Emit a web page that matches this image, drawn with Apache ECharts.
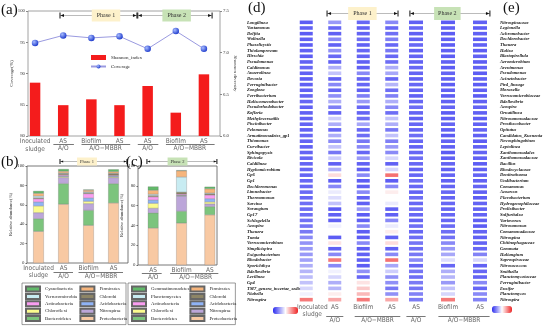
<!DOCTYPE html>
<html><head><meta charset="utf-8">
<script src="https://cdn.jsdelivr.net/npm/echarts@6/dist/echarts.min.js"></script>
<style>html,body{margin:0;padding:0;background:#fff}#c{width:550px;height:328px}</style>
</head><body><div id="c"></div>
<script>
// ---------------- DATA ----------------
// (a)
const aSamples = ['Inoculated\nsludge','AS','Biofilm','AS','AS','Biofilm','AS'];
const aGroups = ['', 'A/O', 'A/O\u2212MBBR', 'A/O\u2212MBBR', 'A/O', 'A/O\u2212MBBR', 'A/O\u2212MBBR'];
const aShannon = [6.64, 6.37, 6.44, 6.37, 6.60, 6.28, 6.74];
const aCoverage = [94.9, 96.1, 95.7, 95.95, 93.95, 96.8, 93.95];
const aCoverageTicks = [80, 85, 90, 95, 100];
const aShannonTicks = [6.0, 6.5, 7.0, 7.5];

// (b)
const bSamples = ['Inoculated\nsludge','AS','Biofilm','AS'];
const bGroups = ['', 'A/O', 'A/O\u2212MBBR', 'A/O\u2212MBBR'];
const bProteobacteria = [32.6, 60.6, 38.8, 61.9];
const bBacteroidetes = [13.1, 21.3, 15.5, 19.9];
const bNitrospirae = [6.2, 6.2, 6.9, 6.2];
const bChloroflexi = [6.9, 1.0, 2.4, 0.8];
const bAcidobacteria = [4.1, 0.8, 3.4, 0.8];
const bActinobacteria = [3.4, 1.0, 4.5, 0.8];
const bChlorobi = [1.0, 1.4, 1.0, 1.7];
const bVerrucomicrobia = [1.7, 0.5, 0.8, 0.4];
const bFirmicutes = [2.8, 1.8, 1.8, 1.7];
const bCyanobacteria = [2.4, 2.2, 0.5, 2.3];

// (c)
const cSamples = ['AS','Biofilm','AS'];
const cGroups = ['A/O', 'A/O\u2212MBBR', 'A/O\u2212MBBR'];
const cProteobacteria = [37.3, 42.3, 50.7];
const cBacteroidetes = [15.3, 12.0, 8.3];
const cNitrospirae = [4.7, 15.3, 2.7];
const cChloroflexi = [5.0, 0.5, 2.0];
const cAcidobacteria = [3.3, 0.5, 3.3];
const cActinobacteria = [3.3, 1.0, 3.7];
const cChlorobi = [1.3, 2.0, 1.3];
const cPlanctomycetes = [1.3, 15.3, 0.7];
const cFirmicutes = [4.0, 6.3, 4.3];
const cGemmatimonadetes = [3.7, 0.5, 2.0];

// (d) heatmap, phase 1 (0 = deep blue, 0.5 = white, 1 = red)
const dSamples = ['Inoculated\nsludge','AS','Biofilm','AS'];
const dGroups = ['', 'A/O', 'A/O\u2212MBBR', 'A/O\u2212MBBR'];
const dGenera = ['Longilinea','Vastamonas','Delftia','Wolinella','Phaselicystis','Thiolamprovum','Hirschia','Pseudomonas','Caldimonas','Anaerolinea','Devosia','Ferruginibacter','Zoogloea','Ferribacterium','Haliscomenobacter','Pseudorhodobacter','Kofleria','Methyloversatilis','Piscinibacter','Pelomonas','Armatimonadetes_gp1','Thiomonas','Curvibacter','Sphingopyxis','Rivicola','Caldilinea','Hyphomicrobium','Gp6','Gp1','Dechloromonas','Limnobacter','Thermomonas','Sarcina','Sorangium','Gp17','Schlegelella','Azospira','Thauera','Tumia','Verrucomicrobium','Simplicispira','Exiguobacterium','Rhodobacter','Sporichthya','Bdellovibrio','Levilinea','Gp4','TM7_genera_incertae_sedis','Niabella','Nitrospira'];
const dInoculated = [0.02,0.03,0.02,0.03,0.02,0.03,0.02,0.03,0.05,0.03,0.02,0.03,0.03,0.04,0.05,0.03,0.03,0.03,0.04,0.03,0.05,0.04,0.03,0.04,0.05,0.04,0.05,0.04,0.05,0.05,0.06,0.05,0.07,0.06,0.07,0.08,0.09,0.10,0.15,0.18,0.20,0.20,0.22,0.26,0.28,0.30,0.32,0.38,0.46,0.88];
const dAS_AO = [0.20,0.05,0.03,0.15,0.03,0.17,0.05,0.03,0.26,0.32,0.03,0.15,0.05,0.17,0.26,0.12,0.03,0.35,0.26,0.05,0.26,0.15,0.32,0.10,0.35,0.03,0.26,0.60,0.02,0.15,0.44,0.40,0.32,0.02,0.03,0.03,0.46,0.50,0.02,0.58,0.03,0.15,0.88,0.15,0.46,0.38,0.26,0.28,0.55,0.75];
const dBiofilm = [0.05,0.03,0.04,0.07,0.03,0.05,0.04,0.03,0.03,0.15,0.04,0.05,0.03,0.12,0.20,0.05,0.04,0.07,0.24,0.05,0.07,0.10,0.15,0.05,0.20,0.03,0.03,0.15,0.02,0.03,0.15,0.03,0.03,0.20,0.02,0.03,0.15,0.02,0.02,0.15,0.02,0.03,0.03,0.02,0.17,0.05,0.58,0.65,0.70,0.88];
const dAS_MBBR = [0.15,0.05,0.07,0.12,0.05,0.10,0.05,0.07,0.26,0.24,0.05,0.28,0.07,0.12,0.26,0.15,0.07,0.32,0.26,0.10,0.32,0.12,0.20,0.15,0.38,0.03,0.38,0.90,0.02,0.15,0.55,0.50,0.44,0.03,0.03,0.15,0.44,0.55,0.03,0.60,0.03,0.15,0.90,0.24,0.35,0.17,0.17,0.10,0.17,0.75];

// (e) heatmap, phase 2
const eSamples = ['AS','Biofilm','AS'];
const eGroups = ['A/O', 'A/O\u2212MBBR', 'A/O\u2212MBBR'];
const eGenera = ['Nitrospinaceae','Legionella','Achromobacter','Dechlorobacter','Thauera','Haliea','Blastopirellula','Aeromicrobium','Arenimonas','Pseudomonas','Acinetobacter','Pir4_lineage','Moraxella','Verrucomicrobiaceae','Bdellovibrio','Azospira','Ornatilinea','Nitrosomonadaceae','Prosthecobacter','Opitutus','Candidatus_Kuenenia','Novosphingobium','Leptolinea','Xanthomonadales','Xanthomonadaceae','Bacillus','Rhodocyclaceae','Denitratisoma','Undibacterium','Comamonas','Azoarcus','Flavobacterium','Hydrogenophilaceae','Prolixibacter','Sulfuritalea','Variovorax','Nitrosomonas','Comamonadaceae','Nitrospina','Chitinophagaceae','Gemmata','Haliangium','Saprospiraceae','Nitrosococcus','Smithella','Planctomycetaceae','Ferruginibacter','Ensifer','Planctomyces','Nitrospira'];
const eAS_AO = [0.03,0.05,0.03,0.04,0.05,0.03,0.04,0.03,0.05,0.04,0.03,0.05,0.04,0.03,0.05,0.07,0.04,0.03,0.05,0.04,0.07,0.05,0.04,0.05,0.07,0.05,0.04,0.05,0.07,0.05,0.04,0.07,0.05,0.07,0.05,0.04,0.07,0.05,0.07,0.09,0.07,0.10,0.15,0.05,0.09,0.07,0.11,0.09,0.13,0.11];
const eBiofilm = [0.02,0.03,0.02,0.03,0.02,0.03,0.02,0.03,0.02,0.04,0.03,0.02,0.03,0.02,0.03,0.04,0.02,0.03,0.04,0.03,0.02,0.04,0.03,0.02,0.03,0.04,0.03,0.04,0.03,0.04,0.05,0.04,0.05,0.04,0.05,0.05,0.06,0.07,0.08,0.15,0.20,0.24,0.40,0.05,0.26,0.28,0.20,0.32,0.38,0.88];
const eAS_MBBR = [0.03,0.02,0.03,0.02,0.03,0.02,0.03,0.02,0.03,0.02,0.03,0.02,0.03,0.02,0.03,0.04,0.03,0.02,0.03,0.04,0.03,0.02,0.03,0.04,0.03,0.02,0.03,0.04,0.03,0.04,0.03,0.02,0.04,0.03,0.04,0.03,0.02,0.04,0.03,0.04,0.05,0.13,0.38,0.03,0.05,0.04,0.15,0.05,0.15,0.13];

// ---------------- STYLE ----------------
const SERIF = "'Liberation Serif','Times New Roman',serif";
const SANS = "'Liberation Sans Narrow','DejaVu Sans Condensed','Liberation Sans',Arial,sans-serif";
const phylumColor = {
  Proteobacteria:'#f8c9a3', Bacteroidetes:'#7cc47d', Nitrospirae:'#bca6d9', Chloroflexi:'#fbfb8e',
  Acidobacteria:'#8fb3f6', Actinobacteria:'#f99df0', Chlorobi:'#8d8566', Verrucomicrobia:'#c8ecf2',
  Planctomycetes:'#c8ecf2', Firmicutes:'#f6b57c', Cyanobacteria:'#62ba6a', Gemmatimonadetes:'#62ba6a'
};
const heatColors = ['#2c2cf0', '#ffffff', '#ef2323'];

// ---------------- HELPERS ----------------
function spans(groups) {
  const out = [];
  groups.forEach((g, i) => {
    if (!g) return;
    const last = out[out.length - 1];
    if (last && last.name === g && last.end === i - 1) last.end = i;
    else out.push({ name: g, start: i, end: i });
  });
  return out;
}
function groupAxis(gridIndex, groups, margin) {
  const sp = spans(groups);
  return {
    gridIndex, type: 'value', position: 'bottom', min: -0.5, max: groups.length - 0.5, interval: 0.5,
    axisLine: { show: false }, axisTick: { show: false }, splitLine: { show: false },
    axisLabel: {
      margin, fontSize: 6.5, color: '#666', fontFamily: SANS, showMinLabel: true, showMaxLabel: true,
      formatter: v => { const s = sp.find(s => Math.abs((s.start + s.end) / 2 - v) < 1e-6); return s ? s.name : ''; }
    }
  };
}
function catAxis(gridIndex, data, fs, lh) {
  return {
    gridIndex, type: 'category', data, position: 'bottom',
    axisLine: { show: false }, axisTick: { show: false },
    axisLabel: { interval: 0, margin: 1, fontSize: fs, lineHeight: lh, color: '#666', fontFamily: SANS }
  };
}
function hiddenAxis(gridIndex, min, max) {
  return { gridIndex, type: 'value', min, max, show: false };
}
function annSeries(xAxisIndex, yAxisIndex, specs) {
  return {
    type: 'custom', xAxisIndex, yAxisIndex, silent: true, clip: false, z: 10,
    data: specs.map(s => [s.x0, s.y]),
    renderItem: function (params, api) {
      const s = specs[params.dataIndex];
      const p0 = api.coord([s.x0, s.y]);
      const p1 = api.coord([s.x1, s.y]);
      const y = Math.round(p0[1]) + 0.5;
      if (s.kind === 'u') {
        return { type: 'line', shape: { x1: p0[0], y1: y, x2: p1[0], y2: y }, style: { stroke: '#555', lineWidth: 0.8 } };
      }
      const pm = api.coord([s.xm, s.y]);
      const h = s.h, a = s.a;
      return {
        type: 'group', children: [
          { type: 'line', shape: { x1: p0[0], y1: y, x2: p1[0], y2: y }, style: { stroke: '#aaa', lineWidth: 0.8 } },
          { type: 'line', shape: { x1: p0[0], y1: y - h, x2: p0[0], y2: y + h }, style: { stroke: '#111', lineWidth: 1 } },
          { type: 'line', shape: { x1: p1[0], y1: y - h, x2: p1[0], y2: y + h }, style: { stroke: '#111', lineWidth: 1 } },
          { type: 'polygon', shape: { points: [[p0[0] + 0.5, y], [p0[0] + a * 2, y - a * 0.7], [p0[0] + a * 2, y + a * 0.7]] }, style: { fill: '#111' } },
          { type: 'polygon', shape: { points: [[p1[0] - 0.5, y], [p1[0] - a * 2, y - a * 0.7], [p1[0] - a * 2, y + a * 0.7]] }, style: { fill: '#111' } },
          { type: 'text', x: pm[0], y: y, style: { text: s.label, fill: '#333', fontSize: s.fs, fontFamily: SERIF, align: 'center', verticalAlign: 'middle', backgroundColor: s.fill, padding: s.pad } }
        ]
      };
    }
  };
}
function underlines(groups, y, l, r) {
  return spans(groups).map(s => ({ kind: 'u', x0: s.start - l, x1: s.end + r, y }));
}
const P1 = '#fdf1cb', P2 = '#c7e2b6';

// ---------------- OPTION ----------------
const grids = [
  { left: 28, top: 11, width: 192, height: 125, show: true, borderColor: '#8a8a8a', borderWidth: 0.8 }, // 0 a frame
  { left: 21, top: 11, width: 197, height: 125 },                                                      // 1 a data
  { left: 27, top: 166, width: 101, height: 97, show: true, borderColor: '#555', borderWidth: 0.8 },    // 2 b frame
  { left: 26, top: 166, width: 100, height: 97 },                                                       // 3 b data
  { left: 138, top: 166, width: 79, height: 99, show: true, borderColor: '#555', borderWidth: 0.8 },    // 4 c frame
  { left: 139, top: 166, width: 85, height: 99 },                                                       // 5 c data
  { left: 292, top: 19.5, width: 114, height: 283 },                                                    // 6 d
  { left: 400, top: 19.5, width: 96, height: 283 }                                                      // 7 e
];

const dSampleItems = dSamples.map((s, i) => i === 0 ? { value: s, textStyle: { padding: [0, 0, 0, 12] } } : s);

const xAxes = [
  hiddenAxis(0, 0, 1),                       // 0
  catAxis(1, aSamples, 6.5, 8.5),            // 1
  groupAxis(1, aGroups, 9),                  // 2
  hiddenAxis(2, 0, 1),                       // 3
  catAxis(3, bSamples, 6.5, 7.7),            // 4
  groupAxis(3, bGroups, 9.5),                // 5
  hiddenAxis(4, 0, 1),                       // 6
  catAxis(5, cSamples, 6.5, 7.7),            // 7
  groupAxis(5, cGroups, 8.5),                // 8
  catAxis(6, dSampleItems, 6.5, 7.5),        // 9
  groupAxis(6, dGroups, 14),                 // 10
  catAxis(7, eSamples, 6.5, 7.5),            // 11
  groupAxis(7, eGroups, 14)                  // 12
];

const tinyLabel = { fontSize: 4.8, color: '#333', fontFamily: SERIF, margin: 3 };
const yAxes = [
  { gridIndex: 0, type: 'value', position: 'left', min: aCoverageTicks[0], max: aCoverageTicks[aCoverageTicks.length - 1], interval: 5,
    name: 'Coverage(%)', nameLocation: 'middle', nameGap: 14, nameTextStyle: { fontSize: 5, fontFamily: SERIF, color: '#333' },
    axisLine: { show: false }, axisTick: { show: true, length: 2, lineStyle: { color: '#888' } }, splitLine: { show: false }, axisLabel: tinyLabel }, // 0
  { gridIndex: 0, type: 'value', position: 'right', min: aShannonTicks[0], max: aShannonTicks[aShannonTicks.length - 1], interval: 0.5,
    name: 'Shannon diversity', nameLocation: 'middle', nameGap: 13, nameRotate: -90, nameTextStyle: { fontSize: 5, fontFamily: SERIF, color: '#333' },
    axisLine: { show: false }, axisTick: { show: true, length: 2, lineStyle: { color: '#888' } }, splitLine: { show: false },
    axisLabel: Object.assign({}, tinyLabel, { formatter: v => v.toFixed(1) }) }, // 1
  hiddenAxis(1, 6.0, 7.5),   // 2 bars
  hiddenAxis(1, 80, 100),    // 3 coverage line
  hiddenAxis(1, 0, 1),       // 4 ann a
  { gridIndex: 2, type: 'value', min: 0, max: 100, interval: 20, name: 'Relative abundance(%)', nameLocation: 'middle', nameGap: 10,
    nameTextStyle: { fontSize: 4.6, fontFamily: SERIF, color: '#333' },
    axisLine: { show: false }, axisTick: { show: true, length: 1.5, lineStyle: { color: '#666' } }, splitLine: { show: false }, axisLabel: Object.assign({}, tinyLabel, { margin: 2.5 }) }, // 5
  hiddenAxis(3, 0, 100),     // 6
  hiddenAxis(3, 0, 1),       // 7 ann b
  { gridIndex: 4, type: 'value', min: 0, max: 100, interval: 20, name: 'Relative abundance(%)', nameLocation: 'middle', nameGap: 10,
    nameTextStyle: { fontSize: 4.6, fontFamily: SERIF, color: '#333' },
    axisLine: { show: false }, axisTick: { show: true, length: 1.5, lineStyle: { color: '#666' } }, splitLine: { show: false }, axisLabel: Object.assign({}, tinyLabel, { margin: 2.5 }) }, // 8
  hiddenAxis(5, 0, 100),     // 9
  hiddenAxis(5, 0, 1),       // 10 ann c
  { gridIndex: 6, type: 'category', data: dGenera, inverse: true, position: 'left',
    axisLine: { show: false }, axisTick: { show: false },
    axisLabel: { interval: 0, align: 'left', margin: 45, fontSize: 4.6, fontStyle: 'italic', fontWeight: 'bold', color: '#111', fontFamily: SERIF } }, // 11
  hiddenAxis(6, 0, 1),       // 12 ann d
  { gridIndex: 7, type: 'category', data: eGenera, inverse: true, position: 'right',
    axisLine: { show: false }, axisTick: { show: false },
    axisLabel: { interval: 0, align: 'left', margin: 4, fontSize: 4.6, fontStyle: 'italic', fontWeight: 'bold', color: '#111', fontFamily: SERIF } }, // 13
  hiddenAxis(7, 0, 1)        // 14 ann e
];

function stack(name, data, xi, yi, key) {
  return { type: 'bar', name, data, xAxisIndex: xi, yAxisIndex: yi, stack: key, barWidth: 10.5,
    itemStyle: { color: phylumColor[name], borderColor: '#666', borderWidth: 0.25 } };
}
const bOrder = [['Proteobacteria', bProteobacteria], ['Bacteroidetes', bBacteroidetes], ['Nitrospirae', bNitrospirae], ['Chloroflexi', bChloroflexi], ['Acidobacteria', bAcidobacteria], ['Actinobacteria', bActinobacteria], ['Chlorobi', bChlorobi], ['Verrucomicrobia', bVerrucomicrobia], ['Firmicutes', bFirmicutes], ['Cyanobacteria', bCyanobacteria]];
const cOrder = [['Proteobacteria', cProteobacteria], ['Bacteroidetes', cBacteroidetes], ['Nitrospirae', cNitrospirae], ['Chloroflexi', cChloroflexi], ['Acidobacteria', cAcidobacteria], ['Actinobacteria', cActinobacteria], ['Chlorobi', cChlorobi], ['Planctomycetes', cPlanctomycetes], ['Firmicutes', cFirmicutes], ['Gemmatimonadetes', cGemmatimonadetes]];

function heatData(cols) {
  const out = [];
  cols.forEach((col, ci) => col.forEach((v, ri) => out.push([ci, ri, v])));
  return out;
}

const series = [
  { type: 'bar', name: 'Shannon_index', data: aShannon, xAxisIndex: 1, yAxisIndex: 2, barWidth: 10.5, itemStyle: { color: '#f41c1c' } },
  { type: 'line', name: 'Coverage', data: aCoverage, xAxisIndex: 1, yAxisIndex: 3, symbol: 'circle', symbolSize: 6.5,
    lineStyle: { color: '#9a9ae0', width: 1 },
    itemStyle: { color: { type: 'radial', x: 0.35, y: 0.35, r: 0.75, colorStops: [{ offset: 0, color: '#a8bcff' }, { offset: 1, color: '#1230c8' }] } } },
  annSeries(2, 4, [
    { x0: 0.886, x1: 3.62, xm: 2.52, y: 0.968, label: 'Phase 1', fill: P1, fs: 6, pad: [3, 5], h: 3, a: 2 },
    { x0: 3.65, x1: 6.29, xm: 5.03, y: 0.968, label: 'Phase 2', fill: P2, fs: 6, pad: [3, 5], h: 3, a: 2 }
  ].concat(underlines(aGroups, -0.064, 0.35, 0.38))),
  ...bOrder.map(([n, d]) => stack(n, d, 4, 6, 'b')),
  annSeries(5, 7, [
    { x0: 0.86, x1: 3.54, xm: 1.94, y: 1.052, label: 'Phase 1', fill: P1, fs: 4.5, pad: [1.5, 3], h: 2.5, a: 1.6 }
  ].concat(underlines(bGroups, -0.093, 0.4, 0.38))),
  ...cOrder.map(([n, d]) => stack(n, d, 7, 9, 'c')),
  annSeries(8, 10, [
    { x0: -0.22, x1: 2.25, xm: 0.86, y: 1.05, label: 'Phase 2', fill: P2, fs: 4.5, pad: [1.5, 3], h: 2.5, a: 1.6 }
  ].concat(underlines(cGroups, -0.081, 0.4, 0.3))),
  { type: 'scatter', name: 'd', xAxisIndex: 9, yAxisIndex: 11, symbol: 'rect', symbolSize: [13, 3.6],
    data: heatData([dInoculated, dAS_AO, dBiofilm, dAS_MBBR]) },
  annSeries(10, 12, [
    { x0: 0.73, x1: 3.22, xm: 1.97, y: 1.023, label: 'Phase 1', fill: P1, fs: 6, pad: [3.5, 5], h: 3, a: 2 }
  ].concat(underlines(dGroups, -0.049, 0.3, 0.3))),
  { type: 'scatter', name: 'e', xAxisIndex: 11, yAxisIndex: 13, symbol: 'rect', symbolSize: [14, 3.6],
    data: heatData([eAS_AO, eBiofilm, eAS_MBBR]) },
  annSeries(12, 14, [
    { x0: -0.19, x1: 2.31, xm: 0.98, y: 1.023, label: 'Phase 2', fill: P2, fs: 6, pad: [3.5, 4], h: 3, a: 2 }
  ].concat(underlines(eGroups, -0.049, 0.3, 0.3)))
];
const dIdx = series.findIndex(s => s.name === 'd');
const eIdx = series.findIndex(s => s.name === 'e');

// Legends: each panel has a bordered left column (its right padding spans the right column) and a plain right column
function colLegend(names, left, top, tw, boxed, padRight) {
  return {
    data: names.map(n => ({ name: n, icon: 'rect' })), orient: 'vertical', left, top, height: 40,
    itemWidth: 14, itemHeight: 5, itemGap: 0.4, selectedMode: false,
    padding: boxed ? [2.5, padRight, 2.5, 3] : 0,
    borderColor: boxed ? '#555' : 'transparent', borderWidth: boxed ? 0.6 : 0,
    textStyle: { fontSize: 4.8, fontFamily: SERIF, color: '#222', lineHeight: 6, width: tw, overflow: 'none' }
  };
}
const rightCol = ['Firmicutes', 'Chlorobi', 'Acidobacteria', 'Nitrospirae', 'Proteobacteria'];

const option = {
  animation: false,
  backgroundColor: '#fff',
  title: [
    { text: '(a)', left: 1, top: 3 }, { text: '(b)', left: 1, top: 155 }, { text: '(c)', left: 126, top: 155 },
    { text: '(d)', left: 248, top: 1 }, { text: '(e)', left: 503, top: 1 }
  ].map(t => Object.assign(t, { padding: 0, textStyle: { fontSize: 15, fontWeight: 'normal', fontFamily: SERIF, color: '#111' } })),
  legend: [
    { data: [{ name: 'Shannon_index', icon: 'rect' }, 'Coverage'], orient: 'vertical', left: 90, top: 55, itemWidth: 15, itemHeight: 5,
      itemGap: 4, selectedMode: false, padding: 0, textStyle: { fontSize: 5, fontFamily: SERIF, color: '#222' } },
    colLegend(['Cyanobacteria', 'Verrucomicrobia', 'Actinobacteria', 'Chloroflexi', 'Bacteroidetes'], 22, 283, 34, true, 47),
    colLegend(rightCol, 79.4, 285.5, 26, false, 0),
    colLegend(['Gemmatimonadetes', 'Planctomycetes', 'Actinobacteria', 'Chloroflexi', 'Bacteroidetes'], 128, 283, 38, true, 46),
    colLegend(rightCol, 189.4, 285.5, 28, false, 0)
  ],
  visualMap: [
    { type: 'continuous', min: 0, max: 1, seriesIndex: dIdx, dimension: 2, orient: 'horizontal', left: 273, top: 307,
      itemWidth: 7, itemHeight: 25, calculable: false, text: ['', ''], padding: 0, inRange: { color: heatColors } },
    { type: 'continuous', min: 0, max: 1, seriesIndex: eIdx, dimension: 2, orient: 'horizontal', left: 492, top: 306,
      itemWidth: 7, itemHeight: 20, calculable: false, text: ['', ''], padding: 0, inRange: { color: heatColors } }
  ],
  grid: grids,
  xAxis: xAxes,
  yAxis: yAxes,
  series
};

const chart = echarts.init(document.getElementById('c'), null, { renderer: 'canvas' });
chart.setOption(option);
</script>
</body></html>
